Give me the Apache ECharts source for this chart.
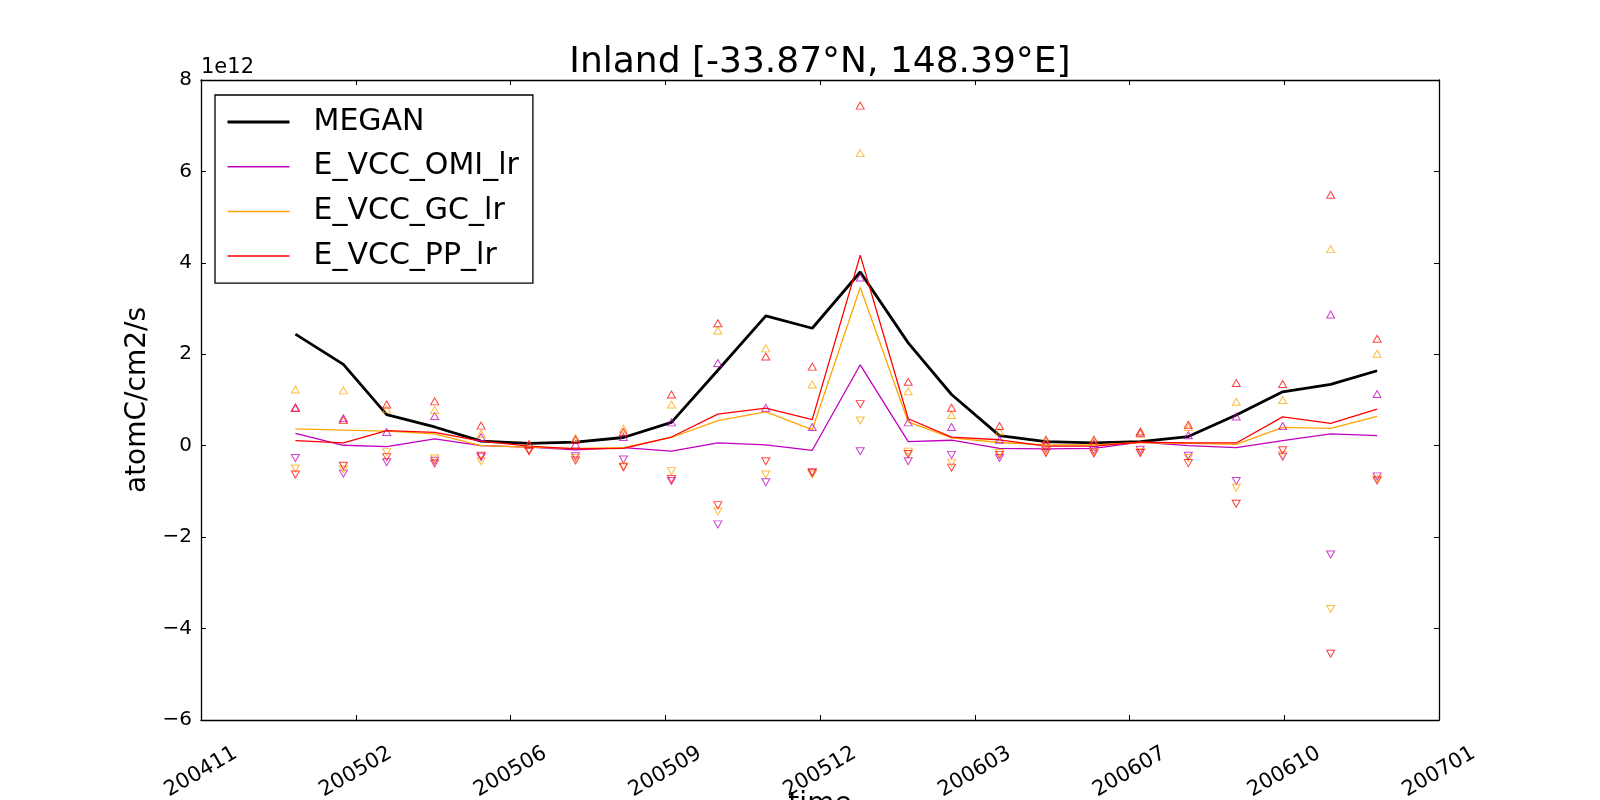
<!DOCTYPE html>
<html lang="en">
<head>
    <meta charset="UTF-8">
    <script type="text/javascript" src="https://cdn.jsdelivr.net/npm/echarts@6/dist/echarts.min.js"></script>
    <title>Inland</title>
    <style>body{margin:0;background:#fff;}</style>
</head>
<body>
<div id="main" style="width:1600px;height:800px;"></div>
<script type="text/javascript">
    // monthly values, in units of 1e12 atomC/cm2/s
    var months = ['200501','200502','200503','200504','200505','200506','200507','200508','200509','200510','200511','200512',
                  '200601','200602','200603','200604','200605','200606','200607','200608','200609','200610','200611','200612'];
    var megan = [2.44,1.78,0.68,0.41,0.10,0.05,0.08,0.18,0.51,1.65,2.84,2.57,3.80,2.25,1.12,0.22,0.09,0.06,0.09,0.20,0.67,1.18,1.34,1.64];
    var omi   = [0.27,0.01,-0.02,0.15,0.00,-0.03,-0.09,-0.04,-0.12,0.06,0.02,-0.10,1.77,0.09,0.12,-0.06,-0.07,-0.06,0.08,0.00,-0.04,0.11,0.26,0.22];
    var gc    = [0.37,0.34,0.32,0.26,0.00,-0.03,-0.06,-0.04,0.18,0.55,0.74,0.35,3.46,0.52,0.17,0.07,0.02,0.02,0.07,0.05,0.03,0.40,0.38,0.64];
    var pp    = [0.11,0.06,0.33,0.29,0.10,-0.01,-0.07,-0.06,0.19,0.69,0.82,0.57,4.17,0.59,0.19,0.13,-0.01,-0.01,0.08,0.06,0.06,0.63,0.49,0.80];
    // upper / lower bounds (triangles)
    var omiHi = [0.83,0.60,0.30,0.65,0.19,0.02,0.03,0.19,0.51,1.81,0.83,0.41,3.68,0.51,0.41,0.13,0.03,0.05,0.28,0.23,0.64,0.43,2.87,1.13];
    var gcHi  = [1.23,1.21,0.80,0.78,0.26,0.03,0.17,0.37,0.90,2.52,2.13,1.34,6.40,1.19,0.67,0.31,0.08,0.08,0.26,0.41,0.96,1.00,4.30,2.01];
    var ppHi  = [0.83,0.56,0.90,0.97,0.44,0.03,0.13,0.30,1.12,2.68,1.95,1.73,7.44,1.40,0.83,0.43,0.13,0.13,0.31,0.46,1.37,1.35,5.49,2.34];
    var omiLo = [-0.27,-0.61,-0.36,-0.33,-0.25,-0.10,-0.23,-0.30,-0.77,-1.72,-0.80,-0.60,-0.12,-0.34,-0.20,-0.27,-0.07,-0.10,-0.09,-0.22,-0.77,-0.24,-2.38,-0.67];
    var gcLo  = [-0.50,-0.52,-0.14,-0.28,-0.34,-0.10,-0.27,-0.45,-0.55,-1.44,-0.63,-0.63,0.55,-0.13,-0.37,-0.16,-0.12,-0.14,-0.14,-0.27,-0.92,-0.20,-3.57,-0.72];
    var ppLo  = [-0.63,-0.44,-0.25,-0.39,-0.22,-0.12,-0.32,-0.47,-0.73,-1.30,-0.34,-0.58,0.91,-0.18,-0.48,-0.20,-0.16,-0.17,-0.16,-0.38,-1.27,-0.10,-4.55,-0.76];
    // x ticks every 100 days (matplotlib date numbers), labelled yyyymm
    var xTickLabels = ['200411','200502','200506','200509','200512','200603','200607','200610','200701'];
    var xMin = 731900, xStep = 100;

    var FONT = 'DejaVu Sans';

    // matplotlib style day number of the 15th of the month
    function dayNum(ym) {
        var y = +ym.slice(0, 4), m = +ym.slice(4, 6);
        return Date.UTC(y, m - 1, 15) / 86400000 + 719163;
    }
    function pts(arr) {
        return months.map(function (m, i) { return [dayNum(m), arr[i]]; });
    }
    function line(name, arr, color, width) {
        return {
            name: name, type: 'line', data: pts(arr), symbol: 'none', z: 2,
            lineStyle: {color: color, width: width}, itemStyle: {color: color}
        };
    }
    function tri(arr, color, down) {
        return {
            type: 'scatter', data: pts(arr), symbol: 'triangle', symbolSize: [8, 7],
            symbolRotate: down ? 180 : 0, z: 3,
            itemStyle: {color: 'rgba(0,0,0,0)', borderColor: color, borderWidth: 1, opacity: 0.75}
        };
    }

    var xMax = xMin + xStep * (xTickLabels.length - 1);
    var xBase = {
        type: 'value', min: xMin, max: xMax, interval: xStep,
        axisLine: {show: true, onZero: false, lineStyle: {color: '#000', width: 1.3}},
        axisTick: {show: true, inside: true, length: 5, lineStyle: {color: '#000'}},
        splitLine: {show: false}
    };
    var yBase = {
        type: 'value', min: -6, max: 8, interval: 2,
        axisLine: {show: true, onZero: false, lineStyle: {color: '#000', width: 1.3}},
        axisTick: {show: true, inside: true, length: 5, lineStyle: {color: '#000'}},
        splitLine: {show: false}
    };

    var myChart = echarts.init(document.getElementById('main'));
    var option = {
        animation: false,
        backgroundColor: '#fff',
        textStyle: {fontFamily: FONT},
        title: {
            text: 'Inland [-33.87\u00b0N, 148.39\u00b0E]',
            left: 820, top: 45, textAlign: 'center', padding: 0,
            textStyle: {fontFamily: FONT, fontSize: 36, fontWeight: 'normal', color: '#000'}
        },
        legend: {
            orient: 'vertical', left: 215, top: 95,
            data: [
                {name: 'MEGAN', lineStyle: {width: 3}},
                {name: 'E_VCC_OMI_lr', lineStyle: {width: 1.5}},
                {name: 'E_VCC_GC_lr', lineStyle: {width: 1.5}},
                {name: 'E_VCC_PP_lr', lineStyle: {width: 1.5}}
            ],
            itemStyle: {opacity: 0},
            backgroundColor: '#fff', borderColor: '#000', borderWidth: 1.3, borderRadius: 0,
            padding: [12, 14, 12, 11], itemWidth: 62, itemHeight: 30, itemGap: 14.7, z: 10,
            textStyle: {fontFamily: FONT, fontSize: 30, color: '#000', padding: [0, 0, 0, 19]}
        },
        grid: {left: 201, right: 161, top: 80, bottom: 80, containLabel: false, outerBoundsMode: 'none'},
        xAxis: [
            Object.assign({}, xBase, {
                position: 'bottom',
                name: 'time', nameLocation: 'middle', nameGap: 71, nameMoveOverlap: false,
                nameTextStyle: {fontFamily: FONT, fontSize: 28, color: '#000'},
                axisLabel: {
                    fontFamily: FONT, fontSize: 21, color: '#000', rotate: 30, margin: 52,
                    align: 'center', verticalAlign: 'middle',
                    formatter: function (v) { return xTickLabels[Math.round((v - xMin) / xStep)]; }
                }
            }),
            Object.assign({}, xBase, {position: 'top', axisLabel: {show: false}})
        ],
        yAxis: [
            Object.assign({}, yBase, {
                position: 'left',
                name: 'atomC/cm2/s', nameLocation: 'middle', nameGap: 39,
                nameTextStyle: {fontFamily: FONT, fontSize: 28, color: '#000'},
                axisLabel: {
                    fontFamily: FONT, fontSize: 20, color: '#000', margin: 9,
                    formatter: function (v) { return v < 0 ? '\u2212' + (-v) : '' + v; }
                }
            }),
            Object.assign({}, yBase, {position: 'right', axisLabel: {show: false}})
        ],
        graphic: [{
            type: 'text', left: 201, top: 57,
            style: {text: '1e12', font: '21px "DejaVu Sans"', fill: '#000'}
        }],
        series: [
            line('MEGAN', megan, '#000', 2.8),
            line('E_VCC_OMI_lr', omi, '#bf00bf', 1.3),
            tri(omiHi, '#bf00bf', false), tri(omiLo, '#bf00bf', true),
            line('E_VCC_GC_lr', gc, '#ffa500', 1.3),
            tri(gcHi, '#ffa500', false), tri(gcLo, '#ffa500', true),
            line('E_VCC_PP_lr', pp, '#ff0000', 1.3),
            tri(ppHi, '#ff0000', false), tri(ppLo, '#ff0000', true)
        ]
    };
    myChart.setOption(option);
</script>
</body>
</html>
